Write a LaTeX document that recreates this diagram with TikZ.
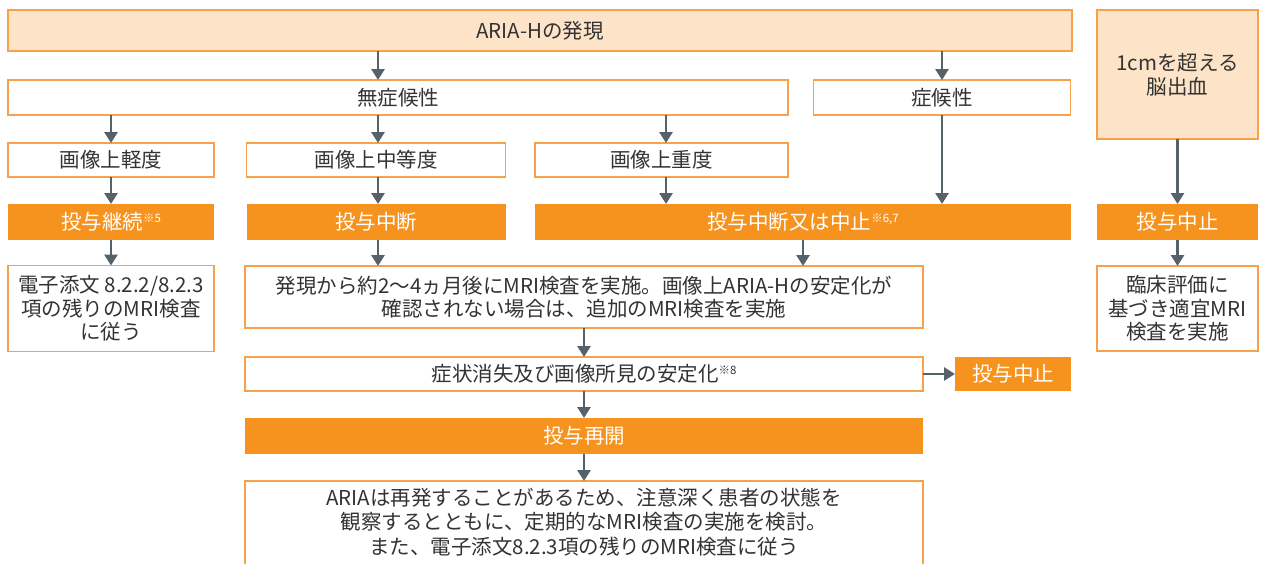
\documentclass[tikz,border=0pt]{standalone}
\usepackage{fontspec}
\setmainfont{Noto Sans CJK JP}
\usetikzlibrary{arrows.meta}
\definecolor{peach}{HTML}{FDE3C7}
\definecolor{orB}{HTML}{F7A24B}
\definecolor{orF}{HTML}{F6931E}
\definecolor{arrC}{HTML}{56626A}
\definecolor{txt}{HTML}{333333}
\newcommand{\supnote}[1]{\raisebox{7.5pt}{\fontsize{11.5}{11.5}\selectfont #1}}
\begin{document}
\begin{tikzpicture}[x=1pt,y=-1pt,
  every node/.style={inner sep=0pt, outer sep=0pt, font=\fontsize{20.5}{23.5}\selectfont, text=txt, align=center},
  wbox/.style={draw=orB, line width=1.3pt, fill=white},
  pbox/.style={draw=orB, line width=1.3pt, fill=peach},
  obox/.style={fill=orF, text=white},
  arr/.style={draw=arrC, line width=2.8pt, -{Triangle[width=13pt,length=11pt]}},
]
\useasboundingbox (0,0) rectangle (1261,563);
\clip (0,0) rectangle (1261,563);
\fill[white] (0,0) rectangle (1261,563);

% row 0
\node[pbox, minimum width=1064, minimum height=41] (top) at (540,30.5) {ARIA-Hの発現};
\node[pbox, minimum width=161, minimum height=129] (nsk) at (1177.5,74.5) {1cmを超える\\脳出血};
% row 1
\node[wbox, minimum width=780, minimum height=35] (muso) at (398,97.5) {無症候性};
\node[wbox, minimum width=257, minimum height=35] (shoko) at (942,97.5) {症候性};
% row 2
\node[wbox, minimum width=206, minimum height=34] (kei) at (111,160) {画像上軽度};
\node[wbox, minimum width=259, minimum height=34] (chu) at (376,160) {画像上中等度};
\node[wbox, minimum width=253, minimum height=34] (ju) at (661.5,160) {画像上重度};
% row 3
\node[obox, minimum width=206, minimum height=36] (keizoku) at (111,222) {投与継続\supnote{※5}};
\node[obox, minimum width=259, minimum height=36] (chudan) at (376,222) {投与中断};
\node[obox, minimum width=536, minimum height=36] (chushi) at (803,222) {投与中断又は中止\supnote{※6,7}};
\node[obox, minimum width=161, minimum height=36] (stopR) at (1177.5,222) {投与中止};
% row 4
\node[wbox, minimum width=206, minimum height=86] (denshi) at (111,308.5) {電子添文 8.2.2/8.2.3\\項の残りのMRI検査\\に従う};
\node[wbox, minimum width=678, minimum height=62] (hatsu) at (584,297) {発現から約2〜4ヵ月後にMRI検査を実施。画像上ARIA-Hの安定化が\\確認されない場合は、追加のMRI検査を実施};
\node[wbox, minimum width=161, minimum height=85] (rinsho) at (1177.5,308.5) {臨床評価に\\基づき適宜MRI\\検査を実施};
% row 5
\node[wbox, minimum width=678, minimum height=34] (shojo) at (584,374) {症状消失及び画像所見の安定化\supnote{※8}};
\node[obox, minimum width=116, minimum height=34] (stop2) at (1013,374) {投与中止};
% row 6
\node[obox, minimum width=678, minimum height=36] (saikai) at (584,436) {投与再開};
% row 7
\node[wbox, anchor=north, minimum width=678, inner ysep=7pt, text depth=80pt, font=\fontsize{20.5}{24.5}\selectfont] (aria) at (584,481) {ARIAは再発することがあるため、注意深く患者の状態を\\観察するとともに、定期的なMRI検査の実施を検討。\\また、電子添文8.2.3項の残りのMRI検査に従う};

% arrows
\draw[arr] (top.south -| 378,0) -- (muso.north -| 378,0);
\draw[arr] (top.south -| shoko) -- (shoko.north);
\draw[arr] (muso.south -| kei) -- (kei.north);
\draw[arr] (muso.south -| 378,0) -- (chu.north -| 378,0);
\draw[arr] (muso.south -| 666,0) -- (ju.north -| 666,0);
\draw[arr] (kei.south) -- (keizoku.north);
\draw[arr] (chu.south -| 378,0) -- (chudan.north -| 378,0);
\draw[arr] (ju.south -| 666,0) -- (chushi.north -| 666,0);
\draw[arr] (shoko.south) -- (chushi.north -| shoko);
\draw[arr] (keizoku.south) -- (denshi.north);
\draw[arr] (chudan.south -| 378,0) -- (hatsu.north -| 378,0);
\draw[arr] (chushi.south) -- (hatsu.north -| chushi);
\draw[arr] (hatsu.south) -- (shojo.north);
\draw[arr] (shojo.east) -- (stop2.west);
\draw[arr] (shojo.south) -- (saikai.north);
\draw[arr] (saikai.south) -- (aria.north);
\draw[arr] (nsk.south) -- (stopR.north);
\draw[arr] (stopR.south) -- (rinsho.north);
\end{tikzpicture}
\end{document}
